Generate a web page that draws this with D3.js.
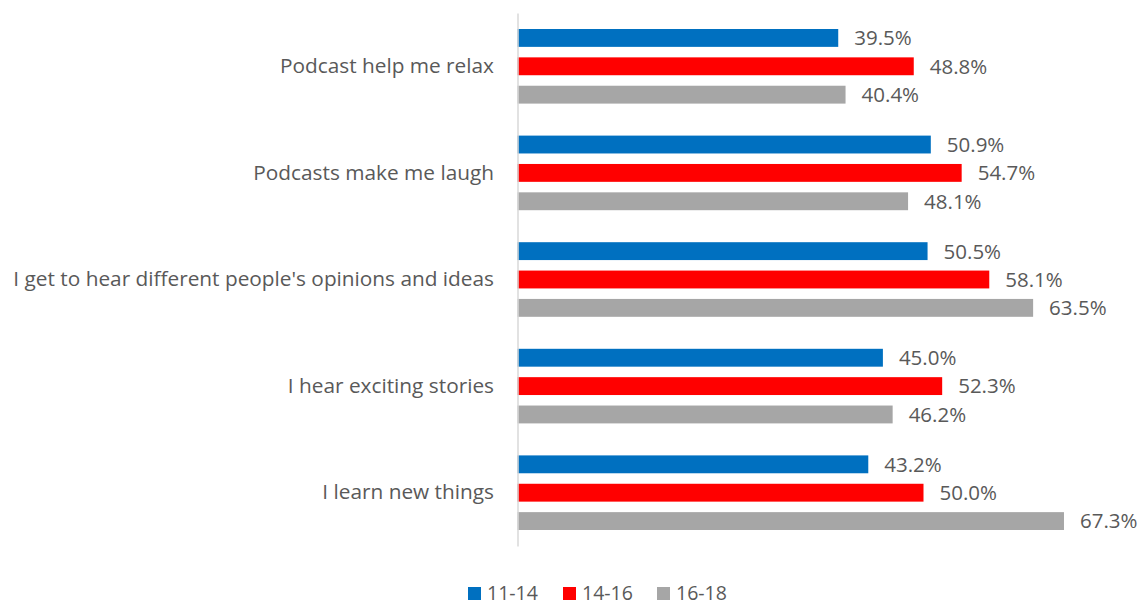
<!DOCTYPE html>
<html>
<head>
<meta charset="utf-8">
<script src="https://cdn.jsdelivr.net/npm/d3@7"></script>
<style>
  body { margin: 0; background: #fff; }
  svg { display: block; }
  text { font-family: "Open Sans", Lato, sans-serif; fill: #595959; }
</style>
</head>
<body>
<svg id="chart" width="1145" height="607"></svg>
<script>
// Reasons for listening to podcasts, by age group (% of respondents)
const categories = [
  "Podcast help me relax",
  "Podcasts make me laugh",
  "I get to hear different people's opinions and ideas",
  "I hear exciting stories",
  "I learn new things"
];
const seriesNames = ["11-14", "14-16", "16-18"];
const seriesColors = ["#0070C0", "#FF0000", "#A6A6A6"];
const values1114 = [39.5, 50.9, 50.5, 45.0, 43.2];
const values1416 = [48.8, 54.7, 58.1, 52.3, 50.0];
const values1618 = [40.4, 48.1, 63.5, 46.2, 67.3];
const seriesValues = [values1114, values1416, values1618];

const svg = d3.select("#chart");

const x = d3.scaleLinear().domain([0, 70]).range([517.5, 517.5 + 70 * 8.12]);
const y = d3.scaleBand().domain(categories).range([13, 546]).paddingInner(0).paddingOuter(0);
const inner = d3.scaleBand().domain(seriesNames).range([16, y.bandwidth() - 16]).paddingInner(0.37).paddingOuter(0);

const rows = categories.map((c, i) => ({
  cat: c,
  vals: seriesNames.map((s, j) => ({ s, j, v: seriesValues[j][i] }))
}));

const g = svg.selectAll("g.cat").data(rows).join("g")
  .attr("class", "cat")
  .attr("transform", d => `translate(0,${y(d.cat)})`);

g.selectAll("rect").data(d => d.vals).join("rect")
  .attr("x", x(0))
  .attr("y", d => inner(d.s))
  .attr("width", d => x(d.v) - x(0))
  .attr("height", inner.bandwidth())
  .attr("fill", d => seriesColors[d.j]);

g.selectAll("text.val").data(d => d.vals).join("text")
  .attr("class", "val")
  .attr("x", d => x(d.v) + 16)
  .attr("y", d => inner(d.s) + inner.bandwidth() / 2)
  .attr("dy", "0.36em")
  .attr("font-size", 20.5)
  .text(d => d3.format(".1f")(d.v) + "%");

// category axis on the left
const axis = d3.axisLeft(y).tickSize(0).tickPadding(23.5);
const ax = svg.append("g").attr("transform", `translate(${x(0)},0)`).call(axis);
ax.select(".domain").attr("stroke", "#D9D9D9").attr("stroke-width", 1.5);
ax.selectAll(".tick text")
  .attr("font-size", 20.8)
  .attr("font-family", "'Open Sans', Lato, sans-serif")
  .attr("fill", "#595959");

// legend
const legendItems = [{ x: 468 }, { x: 563 }, { x: 657 }];
const lg = svg.append("g").selectAll("g").data(seriesNames).join("g")
  .attr("transform", (d, i) => `translate(${legendItems[i].x},593)`);
lg.append("rect").attr("x", 0).attr("y", -6).attr("width", 13).attr("height", 13)
  .attr("fill", (d, i) => seriesColors[i]);
lg.append("text").attr("x", 19).attr("dy", "0.36em").attr("font-size", 19.5).text(d => d);
</script>
</body>
</html>
